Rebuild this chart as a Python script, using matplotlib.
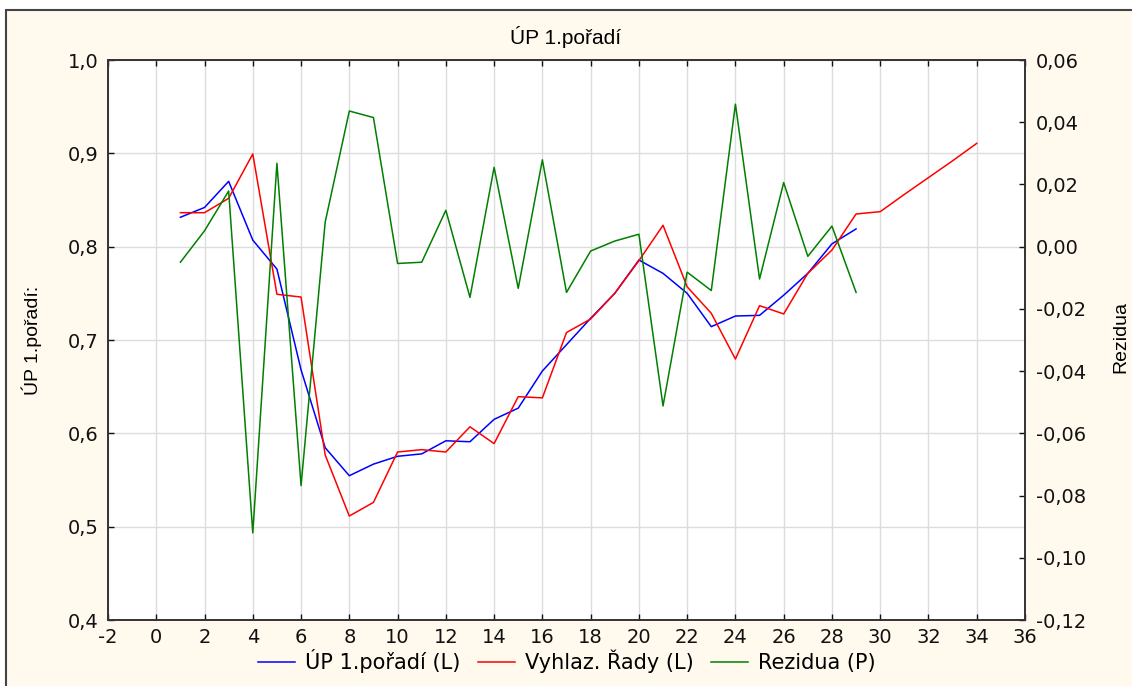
import matplotlib
matplotlib.use("Agg")
import matplotlib.pyplot as plt
from matplotlib.ticker import FuncFormatter, MultipleLocator
from matplotlib.patches import Rectangle

# ---- data ----
x_up = list(range(1, 30))
up = [0.8315, 0.842, 0.870, 0.807, 0.776, 0.668, 0.5846, 0.5546, 0.567, 0.5754,
      0.578, 0.592, 0.591, 0.615, 0.627, 0.6668, 0.695, 0.7232, 0.750, 0.7857,
      0.7714, 0.750, 0.7143, 0.7257, 0.7264, 0.748, 0.7714, 0.803, 0.819]

x_vyh = list(range(1, 35))
vyh = [0.8364, 0.8364, 0.8518, 0.8993, 0.749, 0.746, 0.5768, 0.5114, 0.526, 0.580,
       0.5825, 0.580, 0.607, 0.589, 0.6393, 0.638, 0.708, 0.7225, 0.750, 0.785,
       0.8229, 0.757, 0.7286, 0.6796, 0.7368, 0.7279, 0.7714, 0.7964, 0.835, 0.8375,
       0.856, 0.874, 0.892, 0.9107]

x_rez = list(range(1, 30))
rez = [-0.0050, 0.0051, 0.0179, -0.0920, 0.0268, -0.0768, 0.0079, 0.0436, 0.0415, -0.0054,
       -0.0050, 0.0117, -0.0163, 0.0255, -0.0134, 0.0279, -0.0147, -0.0014, 0.0018, 0.0040,
       -0.0512, -0.0082, -0.0141, 0.0458, -0.0104, 0.0206, -0.0031, 0.0066, -0.0147]

title = "ÚP 1.pořadí"
ylabel_left = "ÚP 1.pořadí:"
ylabel_right = "Rezidua"
labels = ["ÚP 1.pořadí (L)", "Vyhlaz. Řady (L)", "Rezidua (P)"]

plt.rcParams['font.family'] = ['DejaVu Sans']
label_font = ['Liberation Sans', 'DejaVu Sans']

bg = "#FFF9EE"
W, H = 1132, 686
fig = plt.figure(figsize=(W / 100, H / 100), dpi=100, facecolor="white")
# cream frame
fig.patches.append(Rectangle((6 / W, -0.05), 1.1, 1.05 - 10 / H, transform=fig.transFigure,
                             facecolor=bg, edgecolor="#444444", linewidth=1.5, zorder=-10))

ax = fig.add_axes([108 / W, 1 - 620 / H, (1025 - 108) / W, (620 - 60) / H])
ax.set_facecolor("white")
ax2 = ax.twinx()

l1, = ax.plot(x_up, up, color="#0000FF", lw=1.1)
l2, = ax.plot(x_vyh, vyh, color="#FF0000", lw=1.1)
l3, = ax2.plot(x_rez, rez, color="#007F00", lw=1.1)

ax.set_xlim(-2, 36)
ax.set_ylim(0.4, 1.0)
ax2.set_ylim(-0.12, 0.06)
ax.xaxis.set_major_locator(MultipleLocator(2))
ax.yaxis.set_major_locator(MultipleLocator(0.1))
ax2.yaxis.set_major_locator(MultipleLocator(0.02))

def comma(fmt):
    return FuncFormatter(lambda v, p: (fmt % v).replace(".", ",").replace("-0,00", "0,00"))

ax.xaxis.set_major_formatter(FuncFormatter(lambda v, p: "%d" % round(v)))
ax.yaxis.set_major_formatter(comma("%.1f"))
ax2.yaxis.set_major_formatter(comma("%.2f"))

ax.grid(True, color="#DCDCDC", lw=1.0)
ax.set_axisbelow(True)

for a in (ax, ax2):
    for s in a.spines.values():
        s.set_color("#333333")
        s.set_linewidth(1.2)

fs = 14
ax.tick_params(axis="both", direction="in", length=4, width=1, labelsize=fs, colors="#111111",
               top=True, pad=7)
ax.tick_params(axis="x", pad=6)
ax2.tick_params(axis="y", direction="in", length=4, width=1, labelsize=fs, colors="#111111", pad=8)

fig.text(0.5, 1 - 37 / H, title, ha="center", va="center", fontsize=15, family=label_font)
fig.text(32 / W, 1 - 340 / H, ylabel_left, ha="center", va="center", rotation=90, fontsize=14,
         family=label_font)
fig.text(1121 / W, 1 - 337 / H, ylabel_right, ha="center", va="center", rotation=90, fontsize=14,
         family=label_font)

leg = fig.legend([l1, l2, l3], labels, loc="center", bbox_to_anchor=(567 / W, 1 - 661 / H),
                 ncol=3, frameon=False, fontsize=15, handlelength=1.75, columnspacing=0.85,
                 handletextpad=0.5, borderpad=0, borderaxespad=0)

fig.savefig("out.png", dpi=100, facecolor="white")
